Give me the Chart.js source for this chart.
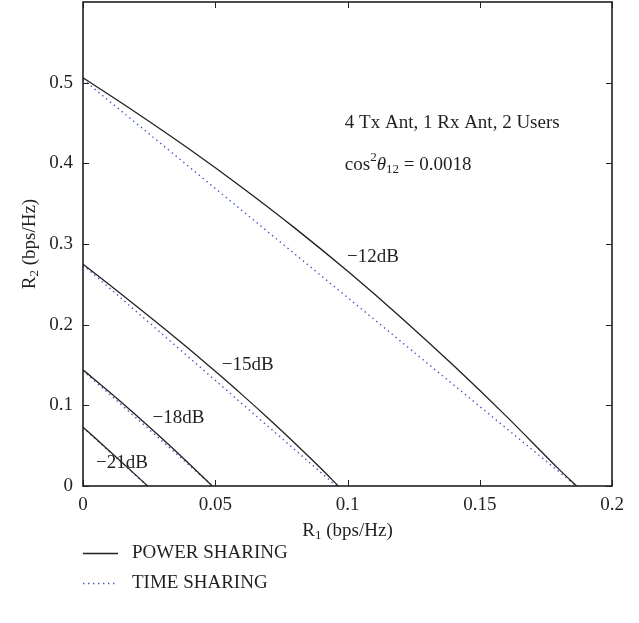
<!DOCTYPE html>
<html>
<head>
<meta charset="utf-8">
<script src="https://cdn.jsdelivr.net/npm/chart.js@4.4.1/dist/chart.umd.min.js"></script>
<style>
  html, body { margin: 0; padding: 0; background: #fff; }
  #wrap { width: 639px; height: 623px; position: relative; }
</style>
</head>
<body>
<div id="wrap"><canvas id="grafico" width="639" height="623"></canvas></div>
<script>
// leituras do grafico (R1, R2 em bps/Hz)
const r1Power12 = [0, 0.02, 0.04, 0.06, 0.08, 0.10, 0.12, 0.14, 0.16, 0.18, 0.1866];
const r2Power12 = [0.506, 0.463, 0.418, 0.3704, 0.320, 0.2664, 0.2096, 0.1496, 0.0866, 0.0206, 0];
const r1Power15 = [0, 0.01, 0.02, 0.03, 0.04, 0.05, 0.06, 0.07, 0.08, 0.09, 0.0965];
const r2Power15 = [0.275, 0.2495, 0.2235, 0.197, 0.170, 0.1422, 0.1136, 0.084, 0.0534, 0.0216, 0];
const r1Power18 = [0, 0.01, 0.02, 0.03, 0.04, 0.0489];
const r2Power18 = [0.144, 0.1165, 0.088, 0.0585, 0.028, 0];
const r1Power21 = [0, 0.01, 0.02, 0.0244];
const r2Power21 = [0.073, 0.0435, 0.0135, 0];

const r1Time12 = [0, 0.1865];
const r2Time12 = [0.504, 0];
const r1Time15 = [0, 0.0958];
const r2Time15 = [0.274, 0];
const r1Time18 = [0, 0.049];
const r2Time18 = [0.143, 0];
const r1Time21 = [0, 0.0243];
const r2Time21 = [0.0725, 0];

const xTicks = [0, 0.05, 0.1, 0.15, 0.2];
const yTicks = [0, 0.1, 0.2, 0.3, 0.4, 0.5];

const snrLabels = ['\u221212dB', '\u221215dB', '\u221218dB', '\u221221dB'];
const snrLabelX = [0.0998, 0.0525, 0.0263, 0.0049];
const snrLabelY = [0.2836, 0.1496, 0.0838, 0.0280];

const legendNames = ['POWER SHARING', 'TIME SHARING'];

const FONTE = '"Liberation Serif", "DejaVu Serif", serif';
const COR_TEXTO = '#231f20';
const COR_POWER = '#231f20';
const COR_TIME = '#3f55c8';

function pontos(xs, ys) {
  return xs.map((x, i) => ({ x: x, y: ys[i] }));
}

function serie(xs, ys, tipo) {
  const power = tipo === 'power';
  return {
    data: pontos(xs, ys),
    borderColor: power ? COR_POWER : COR_TIME,
    borderWidth: power ? 1.3 : 1.4,
    borderDash: power ? [] : [1.4, 3.6],
    pointRadius: 0,
    cubicInterpolationMode: 'monotone',
    fill: false,
    tipo: tipo
  };
}

// desenha texto com indices/expoentes
function textoComposto(ctx, partes, x, y, align) {
  let total = 0;
  partes.forEach(p => {
    ctx.font = (p.italic ? 'italic ' : '') + p.s + 'px ' + FONTE;
    p.w = ctx.measureText(p.t).width;
    total += p.w;
  });
  let cx = align === 'center' ? x - total / 2 : x;
  ctx.textBaseline = 'middle';
  ctx.textAlign = 'left';
  partes.forEach(p => {
    ctx.font = (p.italic ? 'italic ' : '') + p.s + 'px ' + FONTE;
    ctx.fillText(p.t, cx, y + (p.dy || 0));
    cx += p.w;
  });
}

const moldura = {
  id: 'moldura',
  afterDatasetsDraw(chart) {
    const ctx = chart.ctx;
    const a = chart.chartArea;
    const sx = chart.scales.x, sy = chart.scales.y;
    ctx.save();
    ctx.strokeStyle = '#231f20';
    ctx.lineWidth = 1;
    const tl = 6;
    xTicks.forEach(v => {
      const px = Math.round(sx.getPixelForValue(v)) + 0.5;
      ctx.beginPath();
      ctx.moveTo(px, a.bottom); ctx.lineTo(px, a.bottom - tl);
      ctx.moveTo(px, a.top); ctx.lineTo(px, a.top + tl);
      ctx.stroke();
    });
    yTicks.forEach(v => {
      const py = Math.round(sy.getPixelForValue(v)) + 0.5;
      ctx.beginPath();
      ctx.moveTo(a.left, py); ctx.lineTo(a.left + tl, py);
      ctx.moveTo(a.right, py); ctx.lineTo(a.right - tl, py);
      ctx.stroke();
    });
    ctx.lineWidth = 1.6;
    ctx.strokeRect(a.left, a.top, a.right - a.left, a.bottom - a.top);

    ctx.fillStyle = COR_TEXTO;
    // rotulos das curvas
    ctx.font = '19px ' + FONTE;
    ctx.textBaseline = 'middle';
    ctx.textAlign = 'left';
    snrLabels.forEach((t, i) => {
      ctx.fillText(t, sx.getPixelForValue(snrLabelX[i]), sy.getPixelForValue(snrLabelY[i]));
    });
    // anotacoes
    const ax = sx.getPixelForValue(0.099);
    ctx.fillText('4 Tx Ant, 1 Rx Ant, 2 Users', ax, sy.getPixelForValue(0.450));
    textoComposto(ctx, [
      { t: 'cos', s: 19 },
      { t: '2', s: 13, dy: -7 },
      { t: '\u03b8', s: 19, italic: true },
      { t: '12', s: 13, dy: 5 },
      { t: ' = 0.0018', s: 19 }
    ], ax, sy.getPixelForValue(0.398), 'left');

    // titulos dos eixos
    textoComposto(ctx, [
      { t: 'R', s: 19 }, { t: '1', s: 13, dy: 5 }, { t: ' (bps/Hz)', s: 19 }
    ], (a.left + a.right) / 2, 531, 'center');
    ctx.save();
    ctx.translate(30, (a.top + a.bottom) / 2);
    ctx.rotate(-Math.PI / 2);
    textoComposto(ctx, [
      { t: 'R', s: 19 }, { t: '2', s: 13, dy: 5 }, { t: ' (bps/Hz)', s: 19 }
    ], 0, 0, 'center');
    ctx.restore();

    // legenda
    const amostras = [chart.data.datasets[0], chart.data.datasets[4]];
    const ly = [553, 583];
    amostras.forEach((ds, i) => {
      ctx.save();
      ctx.strokeStyle = ds.borderColor;
      ctx.lineWidth = ds.borderWidth;
      ctx.setLineDash(ds.borderDash);
      ctx.beginPath();
      ctx.moveTo(83, ly[i] + 0.5); ctx.lineTo(118, ly[i] + 0.5);
      ctx.stroke();
      ctx.restore();
      ctx.font = '19px ' + FONTE;
      ctx.fillText(legendNames[i], 132, ly[i]);
    });
    ctx.restore();
  }
};

document.addEventListener('DOMContentLoaded', function() {
  const ctx = document.getElementById('grafico').getContext('2d');
  new Chart(ctx, {
    type: 'line',
    data: {
      datasets: [
        serie(r1Power12, r2Power12, 'power'),
        serie(r1Power15, r2Power15, 'power'),
        serie(r1Power18, r2Power18, 'power'),
        serie(r1Power21, r2Power21, 'power'),
        serie(r1Time12, r2Time12, 'time'),
        serie(r1Time15, r2Time15, 'time'),
        serie(r1Time18, r2Time18, 'time'),
        serie(r1Time21, r2Time21, 'time')
      ]
    },
    options: {
      responsive: false,
      animation: false,
      layout: { padding: { left: 0, top: 2, right: 27, bottom: 97 } },
      plugins: { legend: { display: false }, tooltip: { enabled: false } },
      scales: {
        x: {
          type: 'linear', min: 0, max: 0.2,
          afterFit: s => { s.height = 40; s.paddingLeft = 0; s.paddingRight = 0; },
          afterBuildTicks: s => { s.ticks = xTicks.map(v => ({ value: v })); },
          grid: { display: false, drawTicks: false },
          border: { display: false },
          ticks: {
            padding: 8, color: COR_TEXTO, maxRotation: 0,
            font: { family: FONTE, size: 19 },
            callback: v => String(v)
          }
        },
        y: {
          type: 'linear', min: 0, max: 0.6,
          afterFit: s => { s.width = 83; s.paddingTop = 0; s.paddingBottom = 0; },
          afterBuildTicks: s => { s.ticks = yTicks.map(v => ({ value: v })); },
          grid: { display: false, drawTicks: false },
          border: { display: false },
          ticks: {
            padding: 10, color: COR_TEXTO,
            font: { family: FONTE, size: 19 },
            callback: v => String(v)
          }
        }
      }
    },
    plugins: [moldura]
  });
});
</script>
</body>
</html>
